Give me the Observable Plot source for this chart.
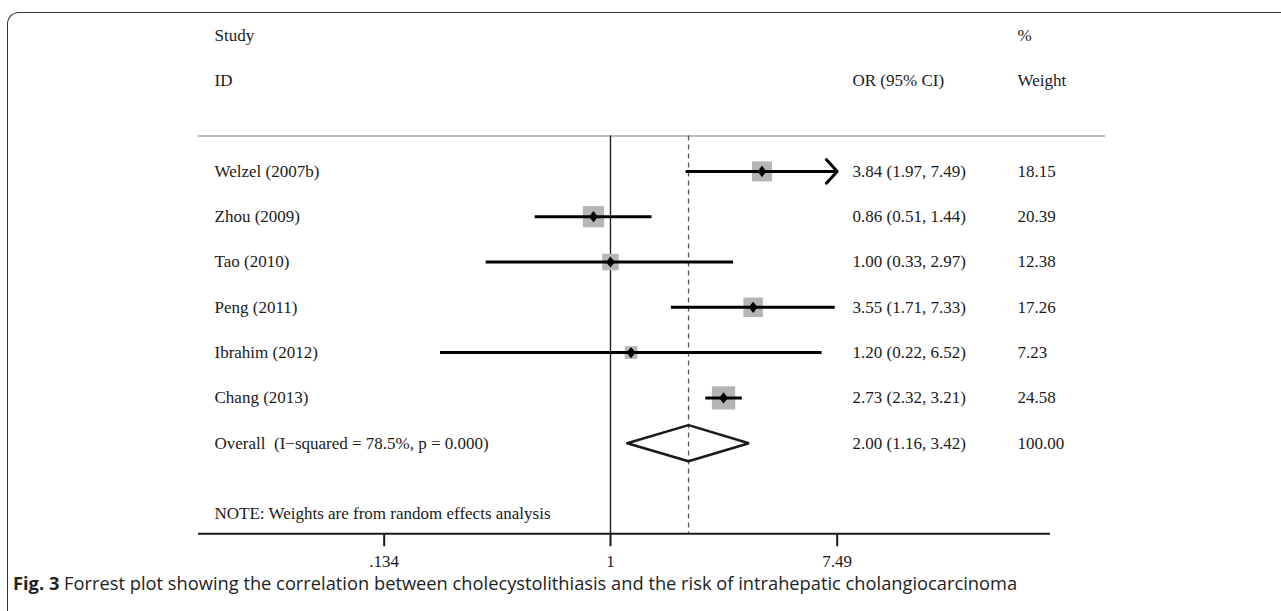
<!DOCTYPE html>
<html><head><meta charset="utf-8">
<script src="https://cdn.jsdelivr.net/npm/d3@7"></script>
<script src="https://cdn.jsdelivr.net/npm/@observablehq/plot@0.6"></script>
<style>
html,body{margin:0;padding:0;background:#fff;overflow:hidden;}
#wrap{position:relative;width:1281px;height:611px;overflow:hidden;}
#box{position:absolute;left:7px;top:12px;width:1400px;height:700px;border-top:1.5px solid #333;border-left:1.5px solid #333;border-top-left-radius:12px;}
#chart{position:absolute;left:0;top:0;}
#caption{position:absolute;left:13px;top:570px;font-family:"Open Sans";font-size:18.3px;line-height:normal;color:#222;white-space:nowrap;}
</style></head><body>
<div id="wrap"><div id="box"></div><div id="chart"></div>
<div id="caption"><b>Fig. 3</b> Forrest plot showing the correlation between cholecystolithiasis and the risk of intrahepatic cholangiocarcinoma</div></div>
<script>
// ---- data ----
const studies = ["Welzel (2007b)", "Zhou (2009)", "Tao (2010)", "Peng (2011)", "Ibrahim (2012)", "Chang (2013)"];
const orValues = [3.84, 0.86, 1.00, 3.55, 1.20, 2.73];
const ciLow = [1.97, 0.51, 0.33, 1.71, 0.22, 2.32];
const ciHigh = [7.49, 1.44, 2.97, 7.33, 6.52, 3.21];
const weights = [18.15, 20.39, 12.38, 17.26, 7.23, 24.58];
const overallLabel = "Overall\u00a0 (I\u2212squared = 78.5%, p = 0.000)";
const overallOR = 2.00, overallLow = 1.16, overallHigh = 3.42, overallWeight = 100.00;
const tickValues = [0.134, 1, 7.49];
const tickLabels = [".134", "1", "7.49"];
const headerLeft = ["Study", "ID"];
const headerOR = "OR (95% CI)";
const headerWeight = ["%", "Weight"];
const noteText = "NOTE: Weights are from random effects analysis";

// ---- tables ----
const rows = studies.map((s, i) => ({study: s, or: orValues[i], lo: ciLow[i], hi: ciHigh[i], w: weights[i], row: i}));
const overallRow = studies.length;
const axisMax = d3.max(tickValues);
const fmt = d3.format(".2f");
const allText = [...rows.map(d => ({label: d.study, ci: `${fmt(d.or)} (${fmt(d.lo)}, ${fmt(d.hi)})`, wt: fmt(d.w), row: d.row})),
  {label: overallLabel, ci: `${fmt(overallOR)} (${fmt(overallLow)}, ${fmt(overallHigh)})`, wt: fmt(overallWeight), row: overallRow}];
const dh = 0.4;
const diamond = [
  {x: overallLow, y: overallRow}, {x: overallOR, y: overallRow - dh},
  {x: overallHigh, y: overallRow}, {x: overallOR, y: overallRow + dh},
  {x: overallLow, y: overallRow}];
const markerSymbol = {draw(ctx, size) { const h = Math.sqrt(size) * 0.9, w = h * 0.8;
  ctx.moveTo(0, -h); ctx.lineTo(w, 0); ctx.lineTo(0, h); ctx.lineTo(-w, 0); ctx.closePath(); }};
const tickLabelFor = d => tickLabels[d3.minIndex(tickValues, t => Math.abs(Math.log(t / d)))];

const lineTop = -0.78, axisRow = 8, noteRow = 7.55;
const xMin = 0.02576, xMax = 49.8, headerRuleEnd = 81.1;

const chart = Plot.plot({
  width: 1281, height: 575,
  marginLeft: 198, marginRight: 231, marginTop: 35, marginBottom: 41.7,
  style: {fontFamily: "'Liberation Serif', serif", fontSize: "17px", color: "#1a1a1a", background: "transparent", overflow: "visible"},
  x: {type: "log", domain: [xMin, xMax], axis: null},
  y: {domain: [-3, axisRow], reverse: true, axis: null},
  r: {type: "sqrt", domain: [0, 100], range: [0, 26.5]},
  marks: [
    Plot.ruleY([lineTop], {x1: xMin, x2: headerRuleEnd, stroke: "#bdbdbd", strokeWidth: 2}),
    Plot.ruleX([1], {y1: lineTop, y2: axisRow, stroke: "#222", strokeWidth: 1.4}),
    Plot.ruleX([overallOR], {y1: lineTop, y2: axisRow, stroke: "#555", strokeWidth: 1.3, strokeDasharray: "5,4"}),
    Plot.dot(rows, {x: "or", y: "row", r: "w", symbol: "square", fill: "#b5b5b5", stroke: "none"}),
    Plot.link(rows.filter(d => d.hi < axisMax), {x1: "lo", x2: "hi", y1: "row", y2: "row", stroke: "#000", strokeWidth: 3}),
    Plot.arrow(rows.filter(d => d.hi >= axisMax), {x1: "lo", x2: "hi", y1: "row", y2: "row", stroke: "#000", strokeWidth: 3, headLength: 8, headAngle: 95}),
    Plot.dot(rows, {x: "or", y: "row", r: 3.5, symbol: markerSymbol, fill: "#000", stroke: "none"}),
    Plot.line(diamond, {x: "x", y: "y", stroke: "#1a1a1a", strokeWidth: 2.5, strokeLinejoin: "miter"}),
    Plot.text(allText, {y: "row", text: "label", frameAnchor: "left", dx: 16, textAnchor: "start"}),
    Plot.text(allText, {y: "row", text: "ci", frameAnchor: "left", dx: 654, textAnchor: "start"}),
    Plot.text(allText, {y: "row", text: "wt", frameAnchor: "left", dx: 819, textAnchor: "start"}),
    Plot.text(headerLeft, {y: (d, i) => i - 3, text: d => d, frameAnchor: "left", dx: 16, textAnchor: "start"}),
    Plot.text([headerOR], {y: [-2], text: d => d, frameAnchor: "left", dx: 654, textAnchor: "start"}),
    Plot.text(headerWeight, {y: (d, i) => i - 3, text: d => d, frameAnchor: "left", dx: 819, textAnchor: "start"}),
    Plot.text([noteText], {y: [noteRow], text: d => d, frameAnchor: "left", dx: 16, textAnchor: "start"}),
    Plot.ruleY([axisRow], {stroke: "#1a1a1a", strokeWidth: 2}),
    Plot.axisX(tickValues, {text: tickLabelFor, tickSize: 13, tickPadding: 8, strokeWidth: 2, stroke: "#1a1a1a", fill: "#1a1a1a", fontSize: 17})
  ]
});
document.getElementById("chart").appendChild(chart);
</script>
</body></html>
